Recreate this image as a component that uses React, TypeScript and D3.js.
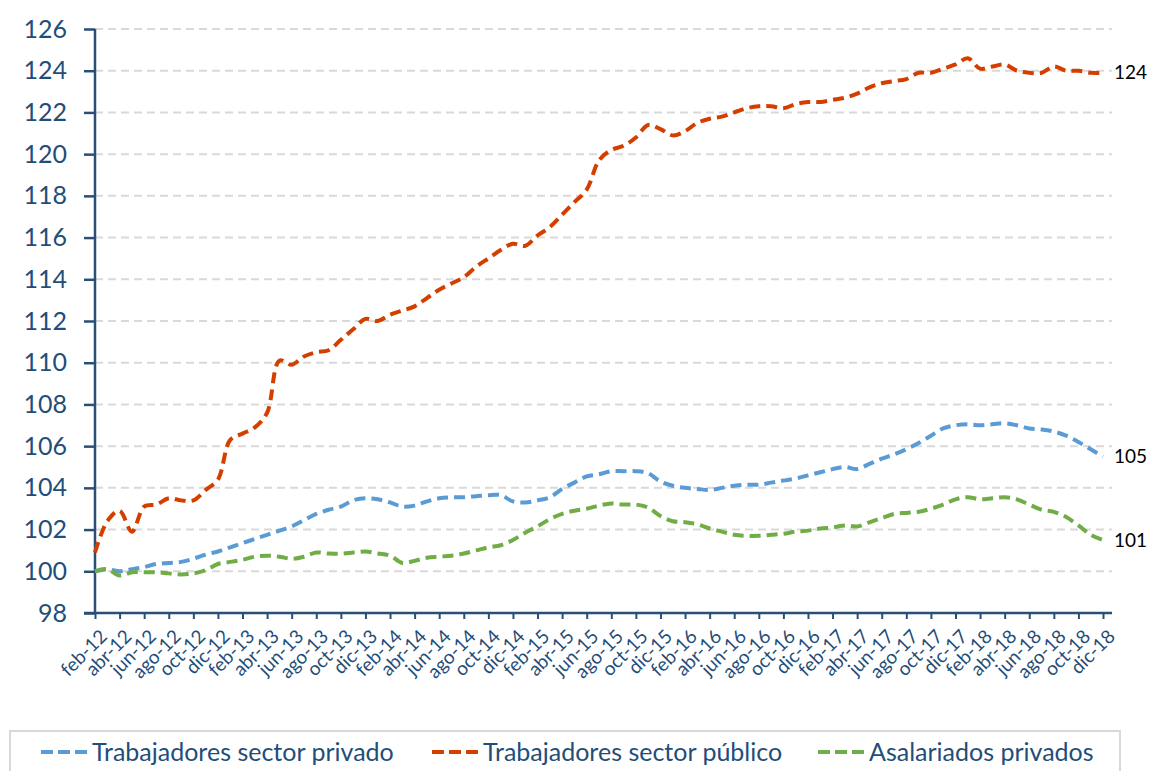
import React, { useEffect, useRef } from "react";
import * as d3 from "d3";

const years = ["12", "13", "14", "15", "16", "17", "18"];
const monthNames = ["ene", "feb", "mar", "abr", "may", "jun", "jul", "ago", "sep", "oct", "nov", "dic"];
// feb-12 .. dic-18
const months: string[] = [];
years.forEach((y) =>
  monthNames.forEach((m, i) => {
    if (y === "12" && i === 0) return;
    months.push(`${m}-${y}`);
  })
);

const privado = [
  100.0, 100.1, 100.0, 100.1, 100.2, 100.35, 100.4, 100.45, 100.6, 100.8, 100.95,
  101.15, 101.35, 101.55, 101.75, 101.95, 102.15, 102.45, 102.75, 102.95, 103.1, 103.4, 103.5,
  103.45, 103.3, 103.1, 103.15, 103.35, 103.5, 103.55, 103.55, 103.6, 103.65, 103.65, 103.35,
  103.3, 103.4, 103.55, 103.95, 104.25, 104.55, 104.65, 104.8, 104.8, 104.8, 104.7, 104.3,
  104.1, 104.0, 103.95, 103.9, 104.0, 104.1, 104.15, 104.15, 104.25, 104.35, 104.45, 104.6,
  104.75, 104.9, 105.0, 104.9, 105.15, 105.4, 105.6, 105.85, 106.15, 106.5, 106.85, 107.0,
  107.05, 107.0, 107.05, 107.1, 107.0, 106.85, 106.8, 106.7, 106.5, 106.2, 105.85, 105.5,
];

const publico = [
  100.9, 102.4, 102.9, 101.9, 103.1, 103.2, 103.5, 103.4, 103.4, 103.9, 104.4,
  106.3, 106.6, 106.9, 107.6, 110.1, 109.9, 110.3, 110.5, 110.6, 111.1, 111.6, 112.1,
  112.0, 112.3, 112.5, 112.7, 113.1, 113.5, 113.8, 114.1, 114.6, 115.0, 115.4, 115.7,
  115.6, 116.1, 116.5, 117.1, 117.7, 118.3, 119.7, 120.2, 120.4, 120.8, 121.4, 121.2,
  120.9, 121.1, 121.5, 121.7, 121.8, 122.0, 122.2, 122.3, 122.3, 122.2, 122.4, 122.5,
  122.5, 122.6, 122.7, 122.9, 123.2, 123.4, 123.5, 123.6, 123.9, 123.9, 124.1, 124.3,
  124.6, 124.1, 124.2, 124.3, 124.0, 123.9, 123.9, 124.2, 124.0, 124.0, 123.9, 123.9,
];

const asalariados = [
  100.0, 100.1, 99.8, 99.95, 99.95, 99.95, 99.9, 99.85, 99.9, 100.05, 100.35,
  100.45, 100.55, 100.7, 100.75, 100.7, 100.6, 100.7, 100.9, 100.85, 100.85, 100.9, 100.95,
  100.85, 100.75, 100.4, 100.5, 100.65, 100.7, 100.75, 100.85, 101.0, 101.15, 101.25, 101.5,
  101.85, 102.15, 102.5, 102.75, 102.9, 103.0, 103.15, 103.25, 103.2, 103.2, 103.05, 102.65,
  102.4, 102.35, 102.25, 102.05, 101.9, 101.75, 101.7, 101.7, 101.75, 101.8, 101.9, 101.95,
  102.05, 102.1, 102.2, 102.15, 102.35, 102.55, 102.75, 102.8, 102.85, 103.0, 103.2, 103.45,
  103.55, 103.45, 103.5, 103.55, 103.45, 103.2, 102.95, 102.85, 102.6, 102.2, 101.75, 101.5,
];

const yTicks = d3.range(98, 127, 2);

const series = [
  { name: "Trabajadores sector privado", values: privado, color: "#5b9bd5", end: "105" },
  { name: "Trabajadores sector público", values: publico, color: "#d43f00", end: "124" },
  { name: "Asalariados privados", values: asalariados, color: "#70ad47", end: "101" },
];

const W = 1152;
const H = 771;
const axisColor = "#2a4f76";
const textColor = "#1f4e79";
const font = "Lato, 'Open Sans', sans-serif";

export default function App() {
  const svgRef = useRef<SVGSVGElement>(null);

  useEffect(() => {
    const svg = d3.select(svgRef.current);
    svg.selectAll("*").remove();

    const x = d3.scaleLinear().domain([0, months.length - 1]).range([95, 1103]);
    const y = d3.scaleLinear().domain([98, 126]).range([613, 29]);
    const xEnd = 1112;

    // gridlines
    svg
      .append("g")
      .selectAll("line")
      .data(yTicks.filter((t) => t > 98))
      .join("line")
      .attr("x1", x(0))
      .attr("x2", xEnd)
      .attr("y1", (d) => y(d))
      .attr("y2", (d) => y(d))
      .attr("stroke", "#d9d9d9")
      .attr("stroke-width", 2)
      .attr("stroke-dasharray", "8,5");

    // y axis
    const yAxis = svg
      .append("g")
      .attr("transform", `translate(${x(0)},0)`)
      .call(d3.axisLeft(y).tickValues(yTicks).tickSize(11).tickPadding(17));
    yAxis.select(".domain").attr("d", `M0,${y(126)}V${y(98)}`).attr("stroke", axisColor).attr("stroke-width", 2.5);
    yAxis.selectAll(".tick line").attr("stroke", axisColor).attr("stroke-width", 2.5);
    yAxis
      .selectAll(".tick text")
      .attr("fill", textColor)
      .style("font-family", font)
      .style("font-size", "25px");

    // x axis
    const labelIdx = d3.range(0, months.length, 2);
    const xAxis = svg
      .append("g")
      .attr("transform", `translate(0,${y(98)})`)
      .call(
        d3
          .axisBottom(x)
          .tickValues(labelIdx)
          .tickSize(6)
          .tickFormat((d) => months[d as number])
      );
    xAxis.select(".domain").attr("d", `M${x(0) - 11},0H${xEnd}`).attr("stroke", axisColor).attr("stroke-width", 2.5);
    xAxis.selectAll(".tick line").attr("stroke", axisColor).attr("stroke-width", 2);
    xAxis
      .selectAll(".tick text")
      .attr("fill", textColor)
      .attr("text-anchor", "end")
      .attr("dy", "0.35em")
      .attr("transform", "translate(8,20) rotate(-45)")
      .attr("y", 0)
      .style("font-family", font)
      .style("font-size", "19px");

    // lines
    const line = d3
      .line<number>()
      .x((_, i) => x(i))
      .y((d) => y(d))
      .curve(d3.curveCatmullRom.alpha(0.5));

    series.forEach((s) => {
      svg
        .append("path")
        .datum(s.values)
        .attr("fill", "none")
        .attr("stroke", s.color)
        .attr("stroke-width", 4)
        .attr("stroke-dasharray", "11,6")
        .attr("d", line);

      svg
        .append("text")
        .attr("x", 1114)
        .attr("y", y(s.values[s.values.length - 1]))
        .attr("dy", "0.35em")
        .attr("fill", "#000")
        .style("font-family", font)
        .style("font-size", "19px")
        .text(s.end);
    });

    // legend
    const lg = svg.append("g");
    lg.append("rect")
      .attr("x", 10)
      .attr("y", 731)
      .attr("width", 1110)
      .attr("height", 60)
      .attr("fill", "#fff")
      .attr("stroke", "#d9d9d9")
      .attr("stroke-width", 2);
    const legendX = [41, 432, 818];
    series.forEach((s, i) => {
      const g = lg.append("g").attr("transform", `translate(${legendX[i]},752)`);
      g.append("line")
        .attr("x1", 0)
        .attr("x2", 48)
        .attr("y1", 0)
        .attr("y2", 0)
        .attr("stroke", s.color)
        .attr("stroke-width", 4)
        .attr("stroke-dasharray", "12,5");
      g.append("text")
        .attr("x", 51)
        .attr("dy", "0.35em")
        .attr("fill", textColor)
        .style("font-family", font)
        .style("font-size", "25px")
        .text(s.name);
    });
  }, []);

  return (
    <svg
      ref={svgRef}
      width={W}
      height={H}
      style={{ position: "absolute", left: 0, top: 0, background: "#fff" }}
    />
  );
}
